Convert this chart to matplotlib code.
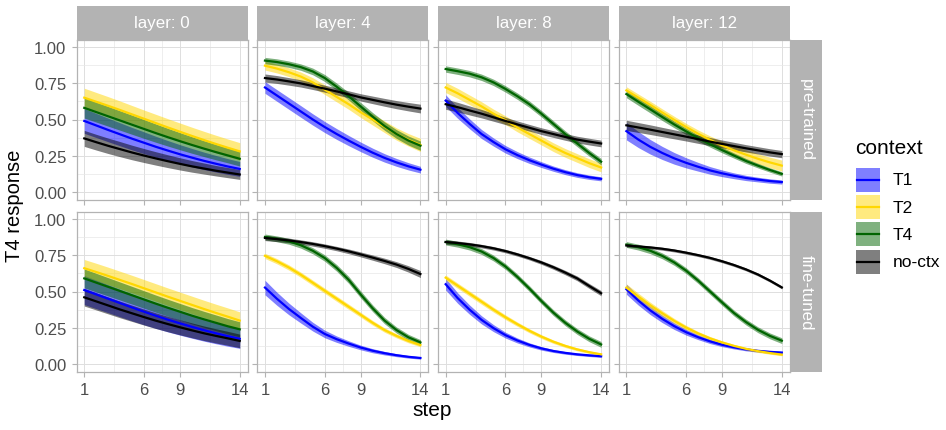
import numpy as np
import matplotlib.pyplot as plt

plt.rcParams['font.family'] = ['Liberation Sans', 'DejaVu Sans']

steps = list(range(1, 15))
layers = [0, 4, 8, 12]
models = ['pre-trained', 'fine-tuned']
contexts = ['T1', 'T2', 'T4', 'no-ctx']
colors = {'T1': '#0000FF', 'T2': '#FFD700', 'T4': '#006400', 'no-ctx': '#000000'}

# mean response per step, and half-width of the band
pt0_T1 = [.490, .459, .428, .398, .368, .340, .312, .286, .261, .238, .216, .196, .177, .160]
pt0_T1_w = [.085, .083, .081, .079, .077, .075, .072, .069, .066, .063, .060, .057, .054, .051]
pt0_T2 = [.650, .622, .594, .565, .535, .505, .475, .445, .416, .387, .359, .332, .306, .281]
pt0_T2_w = [.065, .064, .063, .062, .061, .060, .060, .060, .060, .060, .060, .060, .060, .060]
pt0_T4 = [.580, .551, .522, .493, .464, .435, .406, .378, .351, .325, .300, .276, .253, .230]
pt0_T4_w = [.070, .069, .068, .067, .066, .065, .063, .061, .059, .057, .055, .053, .051, .050]
pt0_nc = [.370, .344, .319, .296, .273, .252, .232, .213, .195, .178, .163, .148, .135, .122]
pt0_nc_w = [.055, .054, .053, .052, .050, .048, .046, .044, .042, .040, .038, .036, .035, .034]

pt4_T1 = [.720, .665, .610, .555, .500, .448, .400, .355, .312, .272, .236, .205, .178, .155]
pt4_T1_w = [.040, .040, .040, .040, .039, .038, .037, .035, .033, .031, .029, .027, .025, .023]
pt4_T2 = [.870, .850, .825, .795, .755, .705, .655, .605, .550, .500, .450, .400, .360, .325]
pt4_T2_w = [.030, .030, .030, .031, .032, .033, .034, .035, .036, .038, .040, .042, .043, .045]
pt4_T4 = [.905, .895, .880, .860, .830, .785, .725, .660, .590, .520, .455, .400, .355, .320]
pt4_T4_w = [.022, .022, .022, .022, .023, .024, .025, .026, .027, .028, .029, .030, .031, .032]
pt4_nc = [.785, .775, .762, .748, .730, .712, .693, .673, .652, .635, .618, .602, .588, .575]
pt4_nc_w = [.028, .027, .026, .025, .024, .024, .024, .024, .025, .026, .027, .028, .029, .030]

pt8_T1 = [.630, .545, .470, .400, .345, .295, .255, .220, .190, .162, .138, .118, .103, .092]
pt8_T1_w = [.040, .037, .034, .031, .028, .026, .024, .022, .020, .018, .017, .016, .015, .014]
pt8_T2 = [.720, .680, .635, .590, .540, .495, .445, .400, .355, .310, .270, .235, .200, .170]
pt8_T2_w = [.035, .034, .033, .032, .031, .030, .030, .030, .030, .030, .030, .030, .030, .030]
pt8_T4 = [.847, .832, .815, .790, .755, .710, .660, .605, .540, .470, .400, .335, .270, .210]
pt8_T4_w = [.022, .022, .022, .022, .022, .022, .022, .022, .022, .022, .022, .022, .022, .022]
pt8_nc = [.605, .585, .562, .540, .515, .490, .466, .443, .420, .400, .380, .362, .348, .335]
pt8_nc_w = [.035, .033, .031, .029, .027, .025, .024, .023, .023, .023, .023, .023, .023, .023]

pt12_T1 = [.420, .362, .312, .270, .233, .202, .175, .150, .130, .113, .098, .087, .077, .070]
pt12_T1_w = [.060, .055, .050, .045, .040, .035, .030, .026, .023, .020, .018, .016, .015, .014]
pt12_T2 = [.700, .650, .600, .548, .497, .448, .402, .360, .322, .288, .258, .230, .205, .183]
pt12_T2_w = [.025, .025, .025, .025, .025, .025, .026, .027, .028, .030, .032, .034, .036, .038]
pt12_T4 = [.675, .622, .570, .517, .466, .418, .372, .330, .290, .252, .215, .183, .153, .126]
pt12_T4_w = [.025, .025, .025, .024, .023, .022, .021, .020, .019, .018, .017, .016, .015, .015]
pt12_nc = [.460, .445, .430, .414, .398, .382, .365, .348, .332, .317, .302, .288, .274, .262]
pt12_nc_w = [.035, .034, .033, .032, .031, .030, .029, .028, .027, .026, .025, .025, .025, .025]

ft0_T1 = [.510, .480, .450, .420, .390, .361, .333, .306, .281, .257, .234, .213, .193, .175]
ft0_T1_w = [.100, .098, .096, .094, .092, .090, .087, .084, .081, .078, .075, .072, .069, .066]
ft0_T2 = [.660, .634, .607, .579, .551, .522, .493, .464, .436, .408, .380, .353, .327, .300]
ft0_T2_w = [.060, .060, .060, .060, .060, .060, .060, .060, .060, .060, .060, .060, .060, .060]
ft0_T4 = [.590, .561, .532, .503, .474, .445, .416, .388, .361, .334, .309, .285, .261, .240]
ft0_T4_w = [.065, .064, .063, .062, .061, .060, .059, .058, .057, .056, .055, .054, .053, .052]
ft0_nc = [.460, .432, .404, .376, .350, .324, .299, .276, .254, .233, .213, .195, .178, .160]
ft0_nc_w = [.060, .059, .058, .057, .056, .055, .054, .053, .052, .051, .050, .049, .048, .047]

ft4_T1 = [.527, .450, .380, .318, .258, .208, .172, .142, .115, .093, .076, .062, .051, .043]
ft4_T1_w = [.050, .045, .040, .035, .030, .026, .022, .019, .016, .014, .012, .010, .009, .008]
ft4_T2 = [.745, .708, .665, .615, .560, .505, .450, .395, .340, .285, .235, .195, .160, .132]
ft4_T2_w = [.018, .018, .018, .018, .018, .018, .018, .018, .017, .016, .015, .014, .013, .012]
ft4_T4 = [.875, .862, .845, .818, .780, .730, .662, .580, .480, .385, .300, .235, .185, .150]
ft4_T4_w = [.020, .020, .020, .020, .021, .022, .023, .024, .024, .023, .022, .021, .020, .019]
ft4_nc = [.868, .860, .851, .840, .827, .812, .795, .776, .755, .733, .710, .685, .655, .620]
ft4_nc_w = [.018, .017, .016, .015, .015, .015, .015, .016, .017, .018, .019, .020, .022, .024]

ft8_T1 = [.550, .455, .375, .305, .248, .200, .163, .133, .109, .091, .078, .068, .061, .055]
ft8_T1_w = [.040, .036, .032, .028, .024, .020, .017, .014, .012, .010, .009, .008, .008, .008]
ft8_T2 = [.595, .540, .485, .430, .375, .323, .275, .230, .190, .155, .126, .102, .083, .068]
ft8_T2_w = [.018, .018, .018, .018, .017, .016, .015, .014, .013, .012, .011, .010, .009, .008]
ft8_T4 = [.840, .825, .805, .775, .730, .672, .600, .520, .435, .355, .285, .225, .175, .136]
ft8_T4_w = [.020, .020, .020, .020, .020, .020, .020, .020, .020, .020, .020, .020, .020, .020]
ft8_nc = [.840, .833, .824, .812, .797, .778, .755, .729, .700, .667, .630, .590, .538, .488]
ft8_nc_w = [.015, .014, .013, .012, .012, .012, .012, .012, .013, .014, .015, .016, .017, .018]

ft12_T1 = [.516, .438, .370, .312, .262, .220, .186, .157, .134, .116, .102, .092, .085, .080]
ft12_T1_w = [.035, .032, .029, .026, .023, .020, .017, .015, .013, .011, .010, .009, .009, .009]
ft12_T2 = [.527, .465, .405, .350, .298, .252, .212, .178, .150, .126, .106, .090, .077, .066]
ft12_T2_w = [.025, .023, .021, .019, .017, .015, .013, .012, .011, .010, .009, .009, .008, .008]
ft12_T4 = [.823, .805, .780, .745, .700, .643, .575, .500, .425, .352, .290, .237, .195, .162]
ft12_T4_w = [.020, .020, .020, .020, .020, .020, .020, .020, .020, .020, .020, .020, .020, .020]
ft12_nc = [.816, .810, .803, .794, .782, .767, .750, .731, .708, .682, .652, .617, .575, .528]
ft12_nc_w = [.010, .010, .010, .010, .010, .010, .010, .010, .010, .010, .010, .010, .010, .010]

g = globals()
data = {}
for m, pre in zip(models, ['pt', 'ft']):
    for l in layers:
        for c, suf in zip(contexts, ['T1', 'T2', 'T4', 'nc']):
            name = '%s%d_%s' % (pre, l, suf)
            data[(m, l, c)] = (np.array(g[name]), np.array(g[name + '_w']))

W, H = 946, 431
fig = plt.figure(figsize=(W / 100, H / 100), dpi=100)

def box(l, t, w, h):
    return [l / W, 1 - (t + h) / H, w / W, h / H]

lefts = [76.5, 257.2, 437.9, 618.6]
pw, ph = 171, 160
tops = [40.5, 212.5]
grey70 = '#B3B3B3'

for r, m in enumerate(models):
    for ci, l in enumerate(layers):
        ax = fig.add_axes(box(lefts[ci], tops[r], pw, ph))
        for c in contexts:
            mu, w = data[(m, l, c)]
            ax.fill_between(steps, mu - w, mu + w, color=colors[c], alpha=0.5, lw=0)
            ax.plot(steps, mu, color=colors[c], lw=1.6)
        ax.set_xlim(0.35, 14.65)
        ax.set_ylim(-0.05, 1.05)
        ax.set_xticks([1, 6, 9, 14])
        ax.set_xticks([3.5, 7.5, 11.5], minor=True)
        ax.set_yticks([0, .25, .5, .75, 1])
        ax.set_yticks([.125, .375, .625, .875], minor=True)
        ax.grid(which='major', color='#DEDEDE', lw=0.7)
        ax.grid(which='minor', color='#E8E8E8', lw=0.5)
        ax.set_axisbelow(True)
        for s in ax.spines.values():
            s.set_color(grey70)
            s.set_linewidth(0.9)
        ax.tick_params(which='major', color=grey70, length=3.8, width=0.8,
                       labelsize=12, labelcolor='#4D4D4D', pad=3.5)
        ax.tick_params(which='minor', length=0)
        ax.set_yticklabels(['0.00', '0.25', '0.50', '0.75', '1.00'])
        if ci > 0:
            ax.tick_params(axis='y', labelleft=False)
        if r == 0:
            ax.tick_params(axis='x', labelbottom=False)
        if r == 0:
            sax = fig.add_axes(box(lefts[ci], 7, pw, 33.5))
            sax.set_facecolor(grey70)
            sax.set_xticks([]); sax.set_yticks([])
            for s in sax.spines.values():
                s.set_visible(False)
            sax.text(0.5, 0.5, 'layer: %d' % l, color='white', fontsize=12.2,
                     ha='center', va='center', transform=sax.transAxes)
        if ci == 3:
            sax = fig.add_axes(box(790, tops[r], 32, ph))
            sax.set_facecolor(grey70)
            sax.set_xticks([]); sax.set_yticks([])
            for s in sax.spines.values():
                s.set_visible(False)
            sax.text(0.5, 0.5, m, color='white', fontsize=12.2, rotation=-90,
                     ha='center', va='center', transform=sax.transAxes)

fig.text(15 / W, 1 - 206 / H, 'T4 response', rotation=90, fontsize=14.5,
         ha='center', va='center')
fig.text(432 / W, 1 - 411 / H, 'step', fontsize=15, ha='center', va='center')

# legend
lax = fig.add_axes([0, 0, 1, 1])
lax.set_xlim(0, W)
lax.set_ylim(H, 0)
lax.axis('off')
lax.text(855, 149, 'context', fontsize=15, ha='left', va='center')
for i, c in enumerate(contexts):
    y0 = 169 + i * 27.2
    lax.add_patch(plt.Rectangle((856, y0), 24, 24, facecolor=colors[c], alpha=0.5, lw=0))
    lax.plot([857, 879], [y0 + 12, y0 + 12], color=colors[c], lw=1.6)
    lax.text(893, y0 + 12, c, fontsize=12.5, ha='left', va='center')

fig.savefig('out.png', dpi=100)
